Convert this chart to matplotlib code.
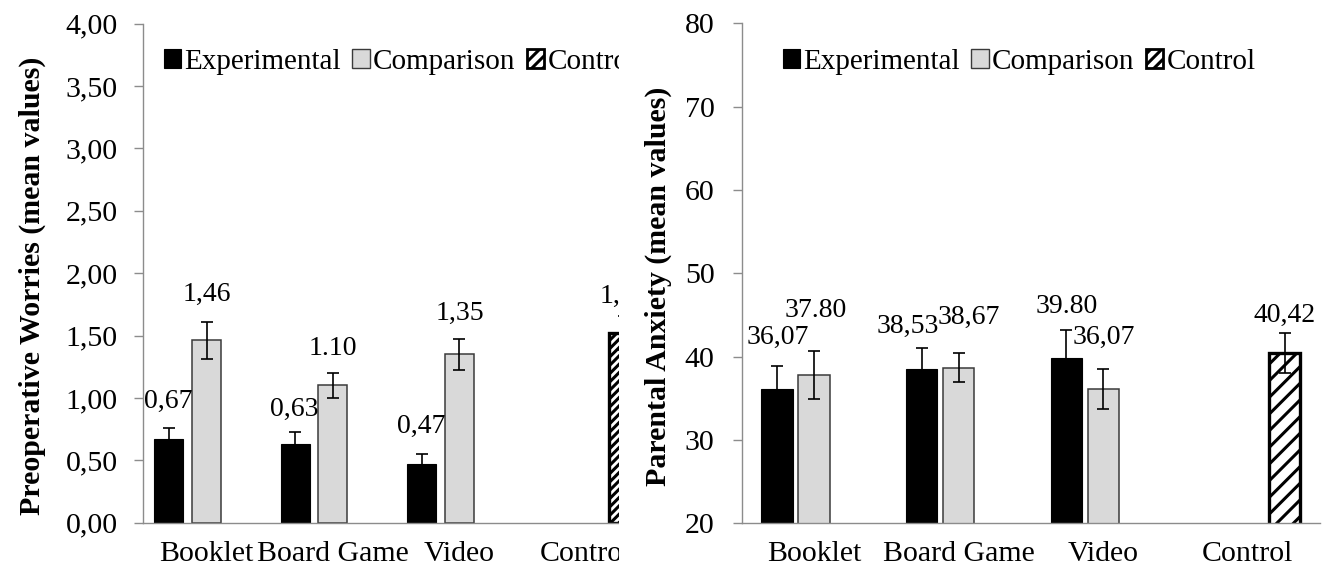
import matplotlib
matplotlib.use("Agg")
import matplotlib.pyplot as plt
from matplotlib.patches import Rectangle, Patch
import numpy as np

# ---------------- data ----------------
categories = ["Booklet", "Board Game", "Video", "Control"]
series_names = ["Experimental", "Comparison", "Control"]

worries_exp = [0.67, 0.63, 0.47]
worries_exp_err = [0.09, 0.10, 0.08]
worries_comp = [1.46, 1.10, 1.35]
worries_comp_err = [0.15, 0.10, 0.125]
worries_ctrl = [1.52]
worries_ctrl_err = [0.14]
worries_exp_lbl = ["0,67", "0,63", "0,47"]
worries_comp_lbl = ["1,46", "1.10", "1,35"]
worries_ctrl_lbl = ["1,52"]
worries_ticks = [0.0, 0.5, 1.0, 1.5, 2.0, 2.5, 3.0, 3.5, 4.0]
worries_ticklabels = ["0,00", "0,50", "1,00", "1,50", "2,00", "2,50", "3,00", "3,50", "4,00"]

anx_exp = [36.07, 38.53, 39.80]
anx_exp_err = [2.8, 2.55, 3.4]
anx_comp = [37.80, 38.67, 36.07]
anx_comp_err = [2.9, 1.75, 2.4]
anx_ctrl = [40.42]
anx_ctrl_err = [2.4]
anx_exp_lbl = ["36,07", "38,53", "39.80"]
anx_comp_lbl = ["37.80", "38,67", "36,07"]
anx_ctrl_lbl = ["40,42"]
anx_ticks = [20, 30, 40, 50, 60, 70, 80]
anx_ticklabels = ["20", "30", "40", "50", "60", "70", "80"]

# ---------------- style ----------------
W, H = 1327, 576
DPI = 100
plt.rcParams["font.family"] = ["Liberation Serif", "DejaVu Serif"]
plt.rcParams["hatch.linewidth"] = 2.2

AX_GRAY = "#8c8c8c"
COMP_FACE = "#d9d9d9"
COMP_EDGE = "#3a3a3a"
PX = 0.72  # px -> pt at 100 dpi

TICK_FS = 21.5
LABEL_FS = 20
LEGEND_FS = 21
YLABEL_FS = 21.5

fig = plt.figure(figsize=(W / DPI, H / DPI), dpi=DPI)
fig.patch.set_facecolor("white")


def px_rect(x0, y_top, x1, y_bot):
    return [x0 / W, 1 - y_bot / H, (x1 - x0) / W, (y_bot - y_top) / H]


def draw_panel(ax, exp, exp_err, comp, comp_err, ctrl, ctrl_err,
               exp_lbl, comp_lbl, ctrl_lbl, ticks, ticklabels, ylim,
               ylabel, width, off, hatch, exp_dy, comp_dy, ctrl_dy,
               exp_dx, comp_dx, ctrl_dx, ytick_pad, label_x, legend_anchor):
    idx = np.arange(len(exp))
    ci = np.array([len(categories) - 1])
    ekw = dict(ecolor="black", elinewidth=1.2, capsize=4, capthick=1.2)
    b_exp = ax.bar(idx - off, exp, width, color="black", edgecolor="black",
                   linewidth=0.8, yerr=exp_err, error_kw=ekw, zorder=2,
                   label=series_names[0])
    b_comp = ax.bar(idx, comp, width, color=COMP_FACE, edgecolor=COMP_EDGE,
                    linewidth=1.1, yerr=comp_err, error_kw=ekw, zorder=2,
                    label=series_names[1])
    b_ctrl = ax.bar(ci + off, ctrl, width, color="white", edgecolor="black",
                    linewidth=2.4, hatch=hatch, yerr=ctrl_err, error_kw=ekw,
                    zorder=2, label=series_names[2])

    for bars, lbls, dys, dxs in ((b_exp, exp_lbl, exp_dy, exp_dx),
                                 (b_comp, comp_lbl, comp_dy, comp_dx),
                                 (b_ctrl, ctrl_lbl, ctrl_dy, ctrl_dx)):
        for r, t, dy, dx in zip(bars, lbls, dys, dxs):
            ax.annotate(t, (r.get_x() + r.get_width() / 2, r.get_height()),
                        xytext=(dx * PX, dy * PX), textcoords="offset points",
                        ha="center", va="baseline", fontsize=LABEL_FS, zorder=4)

    ax.set_xlim(-0.5, len(categories) - 0.5)
    ax.set_ylim(*ylim)
    ax.set_xticks(np.arange(len(categories)))
    ax.set_xticklabels(categories, fontsize=TICK_FS)
    ax.set_yticks(ticks)
    ax.set_yticklabels(ticklabels, fontsize=TICK_FS)
    ax.tick_params(axis="x", length=0, pad=13)
    ax.tick_params(axis="y", direction="out", length=6.5, width=1,
                   color=AX_GRAY, pad=ytick_pad)
    for s in ("top", "right"):
        ax.spines[s].set_visible(False)
    for s in ("left", "bottom"):
        ax.spines[s].set_color(AX_GRAY)
        ax.spines[s].set_linewidth(1.0)
    ax.set_ylabel(ylabel, fontsize=YLABEL_FS, fontweight="bold")
    ax.yaxis.set_label_coords(label_x, 0.475)

    handles = [Patch(facecolor="black", edgecolor="black", linewidth=0.8),
               Patch(facecolor=COMP_FACE, edgecolor=COMP_EDGE, linewidth=1.0),
               Patch(facecolor="white", edgecolor="black", linewidth=2.0,
                     hatch="///")]
    ax.legend(handles, series_names, ncol=3, frameon=False, fontsize=LEGEND_FS,
              loc="upper left", bbox_to_anchor=legend_anchor,
              handlelength=0.6, handleheight=0.6, handletextpad=0.1,
              columnspacing=0.4, borderaxespad=0)


# left panel
axL = fig.add_axes(px_rect(143.3, 23.5, 649, 522.7))
axL.set_zorder(0)
draw_panel(axL, worries_exp, worries_exp_err, worries_comp, worries_comp_err,
           worries_ctrl, worries_ctrl_err, worries_exp_lbl, worries_comp_lbl,
           worries_ctrl_lbl, worries_ticks, worries_ticklabels, (0, 4),
           "Preoperative Worries (mean values)", 0.229, 0.299, "////",
           [31, 28, 31], [40, 30.6, 34.5], [30],
           [0, -1, 0], [0, 0, 1], [0], 12, -0.192, (0.017, 0.973))

# crop of the left chart (the left chart is cut off at its right side)
fig.add_artist(Rectangle((619 / W, 0), 1, 1, transform=fig.transFigure,
                         facecolor="white", edgecolor="none", zorder=0.5))

# right panel
axR = fig.add_axes(px_rect(741.7, 23.4, 1320, 523.3))
axR.set_zorder(1)
axR.patch.set_alpha(0)
draw_panel(axR, anx_exp, anx_exp_err, anx_comp, anx_comp_err,
           anx_ctrl, anx_ctrl_err, anx_exp_lbl, anx_comp_lbl, anx_ctrl_lbl,
           anx_ticks, anx_ticklabels, (20, 80),
           "Parental Anxiety (mean values)", 0.215, 0.256, "//",
           [46, 35.6, 45], [57.7, 43.7, 46], [31.5],
           [0.7, -14, 0.5], [1.7, 10, 1], [0], 13, -0.1205, (0.0507, 0.973))

fig.savefig("out.png", dpi=DPI, facecolor="white")
